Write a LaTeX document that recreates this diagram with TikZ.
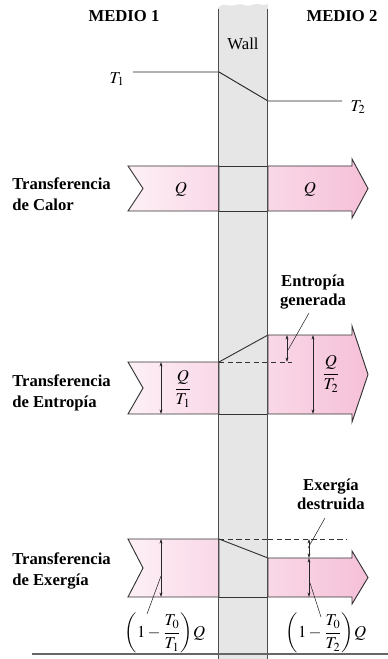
\documentclass[tikz,border=0pt]{standalone}
\usepackage{amsmath}
\usepackage{mathptmx}
\usepackage{fontspec}
\setmainfont{Liberation Serif}
\usetikzlibrary{arrows.meta}
\definecolor{wallgray}{RGB}{230,230,230}
\definecolor{pinkpale}{RGB}{253,240,246}
\definecolor{pinkmid}{RGB}{249,216,231}
\definecolor{pinkdeep}{RGB}{245,192,216}
\tikzset{
  bandleft/.style={draw=black!80,line width=0.7,left color=pinkpale,right color=pinkmid},
  bandright/.style={draw=black!80,line width=0.7,left color=pinkmid,right color=pinkdeep},
  edge/.style={draw=black!80,line width=0.7},
  dim/.style={draw=black!85,line width=0.4,{Stealth[length=3.5pt,width=2.2pt]}-{Stealth[length=3.5pt,width=2.2pt]}},
  leader/.style={draw=black!85,line width=0.4},
  heading/.style={font=\fontsize{12.5}{14.3}\selectfont\bfseries,inner sep=0.75pt},
  rowlabel/.style={font=\fontsize{12.5}{15.75}\selectfont\bfseries,align=left,anchor=west,inner sep=0.75pt},
  mathlabel/.style={font=\fontsize{12.5}{14}\selectfont,inner sep=0.75pt}
}
\begin{document}
\begin{tikzpicture}[x=0.75pt,y=0.75pt,yscale=-1,xscale=1]
\useasboundingbox (0,0) rectangle (388,659);

% wall
\fill [wallgray] (218,659) -- (218,8) .. controls (224,1) and (230,8) .. (236,5) .. controls (242,2) and (246,8) .. (252,5) .. controls (258,2) and (262,7) .. (268,4) -- (268,659) -- cycle;

% temperature profile
\coordinate (t1a) at (133,72);
\coordinate (t1b) at (219,72);
\coordinate (t2a) at (268,101);
\coordinate (t2b) at (342,101);
\draw [black!85,line width=0.7] (t1a) -- (t1b) -- (t2a) -- (t2b);

% heat band
\draw [bandleft] (128,166) -- (219,166) -- (219,211) -- (128,211) -- (143,188.5) -- cycle;
\draw [bandright] (268,166) -- (352,166) -- (352,159) -- (368,188.5) -- (352,218) -- (352,211) -- (268,211) -- cycle;
\draw [edge] (219,166) -- (268,166);
\draw [edge] (219,211) -- (268,211);

% entropy band
\draw [bandleft] (128,362) -- (219,362) -- (219,414) -- (128,414) -- (143,388) -- cycle;
\draw [bandright] (268,335) -- (352,335) -- (352,326) -- (368,374.5) -- (352,422) -- (352,414) -- (268,414) -- cycle;
\draw [edge] (219,362) -- (268,335);
\draw [edge] (219,414) -- (268,414);
\draw [edge,dashed,dash pattern=on 4pt off 2.5pt] (219,362) -- (292,362);

% exergy band
\draw [bandleft] (128,539) -- (219,539) -- (219,597) -- (128,597) -- (143,568) -- cycle;
\draw [bandright] (268,558) -- (352,558) -- (352,551) -- (368,577.5) -- (352,604) -- (352,597) -- (268,597) -- cycle;
\draw [edge] (219,539) -- (268,558);
\draw [edge] (219,597) -- (268,597);
\draw [edge,dashed,dash pattern=on 4pt off 2.5pt] (268,539) -- (347,539);
\draw [edge,dashed,dash pattern=on 4pt off 2.5pt] (219,539) -- (268,539);

% wall borders and base line
\draw [black!70,line width=0.8] (218.5,9) -- (218.5,659);
\draw [black!70,line width=0.8] (267.5,9) -- (267.5,659);
\draw [black!60,line width=0.8] (32,654) -- (388,654);

% dimension arrows
\draw [dim] (161,362) -- (161,414);
\draw [dim] (287,335) -- (287,362);
\draw [dim] (313,335) -- (313,414);
\draw [dim] (161,539) -- (161,597);
\draw [dim] (309,539) -- (309,558);
\draw [dim] (309,558) -- (309,597);

% leader lines
\draw [leader] (288,350) -- (309,313);
\draw [leader] (308,548) -- (325,518);
\draw [leader] (161,576) -- (147,614);
\draw [leader] (310,583) -- (321,617);

% headings
\node [heading] (medio1) at (124,16) {MEDIO 1};
\node [heading] (medio2) at (342,16) {MEDIO 2};
\node [mathlabel] (wall) at (243,44) {Wall};
\node [mathlabel] (T1) at (117,79) {$T_1$};
\node [mathlabel] (T2) at (358,107) {$T_2$};

% row labels
\node [rowlabel] (calor) at (11,194) {Transferencia\\de Calor};
\node [rowlabel] (entropia) at (11,393) {Transferencia\\de Entropía};
\node [rowlabel] (exergia) at (11,571) {Transferencia\\de Exergía};

% band labels
\node [mathlabel] (q1) at (181,189) {$Q$};
\node [mathlabel] (q2) at (310,189) {$Q$};
\node [mathlabel] (qt1) at (183,389) {$\dfrac{Q}{T_1}$};
\node [mathlabel] (qt2) at (331,374) {$\dfrac{Q}{T_2}$};
\node [heading,align=center] (gen) at (313,292) {Entropía\\generada};
\node [heading,align=center] (des) at (331,494) {Exergía\\destruida};
\node [mathlabel] (ex1) at (165,633) {$\left(1-\dfrac{T_0}{T_1}\right)\!Q$};
\node [mathlabel] (ex2) at (326,633) {$\left(1-\dfrac{T_0}{T_2}\right)\!Q$};
\end{tikzpicture}
\end{document}
